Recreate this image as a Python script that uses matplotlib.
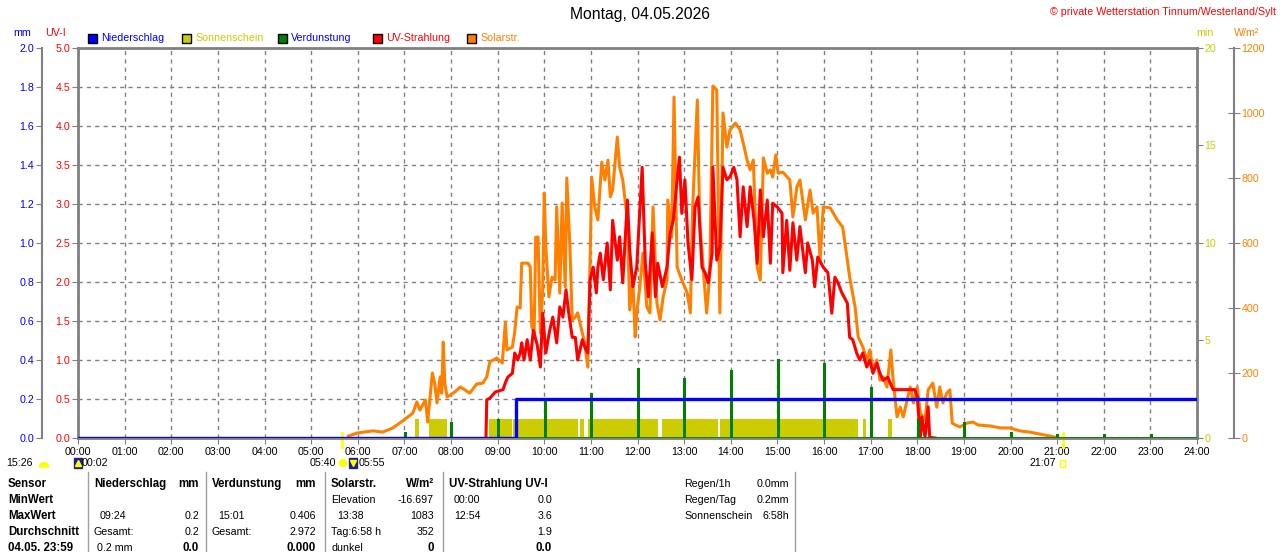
import matplotlib
matplotlib.use('Agg')
import matplotlib.pyplot as plt
from matplotlib.patches import Rectangle, Wedge, Circle
from matplotlib.lines import Line2D
from matplotlib.transforms import blended_transform_factory

plt.rcParams['font.family'] = ['Liberation Sans', 'DejaVu Sans']

# hour axis
hours = list(range(25))
hour_labels = ['%02d:00' % h for h in hours]

# Solarstrahlung W/m2
solar_times = ['05:48', '05:59', '06:07', '06:20', '06:32', '06:45', '06:54', '07:03', '07:11', '07:16',
               '07:20', '07:27', '07:30', '07:36', '07:39', '07:42', '07:46', '07:48', '07:50', '07:52',
               '07:55', '07:59', '08:05', '08:12', '08:18', '08:24', '08:33', '08:41', '08:46', '08:50',
               '08:59', '09:06', '09:10', '09:12', '09:19', '09:22', '09:25', '09:29', '09:31', '09:39',
               '09:42', '09:44', '09:47', '09:49', '09:52', '09:55', '09:58', '10:00', '10:02', '10:06',
               '10:10', '10:14', '10:16', '10:20', '10:23', '10:27', '10:29', '10:33', '10:36', '10:40',
               '10:43', '10:49', '10:52', '10:56', '10:59', '11:01', '11:05', '11:09', '11:14', '11:18',
               '11:22', '11:25', '11:28', '11:34', '11:37', '11:41', '11:47', '11:50', '11:54', '11:57',
               '11:59', '12:03', '12:07', '12:12', '12:16', '12:20', '12:25', '12:29', '12:33', '12:38',
               '12:39', '12:44', '12:47', '12:51', '12:57', '13:04', '13:08', '13:11', '13:17', '13:20',
               '13:24', '13:29', '13:33', '13:37', '13:42', '13:46', '13:50', '13:55', '13:59', '14:06',
               '14:12', '14:16', '14:21', '14:25', '14:29', '14:34', '14:38', '14:42', '14:47', '14:51',
               '14:54', '14:58', '15:01', '15:07', '15:16', '15:20', '15:25', '15:29', '15:36', '15:42',
               '15:46', '15:51', '15:55', '15:59', '16:08', '16:17', '16:24', '16:30', '16:33', '16:40',
               '16:44', '16:50', '16:55', '16:59', '17:03', '17:08', '17:12', '17:16', '17:21', '17:26',
               '17:29', '17:34', '17:38', '17:42', '17:47', '17:51', '17:55', '18:00', '18:04', '18:10',
               '18:14', '18:20', '18:25', '18:29', '18:33', '18:38', '18:42', '18:45', '18:49', '18:55',
               '19:04', '19:12', '19:18', '19:34', '19:47', '19:59', '20:12', '20:25', '20:38', '20:51',
               '21:01']
solar_wm2 = [6, 15, 18, 22, 18, 31, 46, 62, 77, 111,
             86, 117, 49, 200, 169, 108, 188, 138, 295, 169,
             126, 132, 142, 157, 148, 138, 166, 169, 188, 234,
             246, 231, 357, 271, 280, 326, 403, 400, 538, 538,
             526, 342, 323, 618, 618, 323, 455, 754, 588, 434,
             495, 486, 711, 446, 723, 465, 800, 588, 363, 372,
             385, 323, 292, 218, 548, 803, 711, 671, 849, 794,
             855, 742, 763, 926, 834, 794, 671, 394, 486, 311,
             385, 465, 569, 403, 385, 711, 415, 363, 434, 486,
             732, 618, 1049, 526, 486, 446, 385, 711, 1040, 671,
             538, 385, 508, 1083, 1071, 385, 1000, 895, 948, 969,
             948, 908, 855, 825, 855, 526, 486, 862, 815, 825,
             803, 871, 815, 818, 794, 680, 772, 794, 671, 763,
             692, 711, 548, 711, 708, 671, 649, 548, 495, 403,
             311, 280, 240, 271, 209, 240, 178, 188, 157, 271,
             178, 65, 95, 65, 117, 157, 108, 157, 77, 55,
             148, 169, 95, 157, 108, 138, 148, 46, 40, 34,
             46, 49, 40, 37, 31, 31, 22, 18, 12, 6,
             0]

# UV-Strahlung UV-I
uv_times = ['08:45', '08:46', '08:50', '08:57', '09:07', '09:10', '09:13', '09:19', '09:22', '09:26',
            '09:29', '09:31', '09:34', '09:38', '09:42', '09:46', '09:51', '09:55', '09:57', '09:58',
            '10:02', '10:07', '10:11', '10:16', '10:20', '10:24', '10:28', '10:31', '10:36', '10:40',
            '10:43', '10:49', '10:52', '10:56', '10:59', '11:03', '11:07', '11:09', '11:12', '11:16',
            '11:21', '11:25', '11:28', '11:34', '11:37', '11:41', '11:47', '11:50', '11:54', '11:59',
            '12:06', '12:10', '12:14', '12:19', '12:23', '12:26', '12:32', '12:38', '12:42', '12:46',
            '12:51', '12:54', '12:57', '13:01', '13:05', '13:10', '13:14', '13:18', '13:23', '13:27',
            '13:31', '13:36', '13:37', '13:42', '13:46', '13:50', '13:55', '13:59', '14:04', '14:08',
            '14:12', '14:16', '14:21', '14:25', '14:30', '14:34', '14:38', '14:42', '14:47', '14:51',
            '14:54', '15:00', '15:06', '15:07', '15:12', '15:16', '15:20', '15:25', '15:29', '15:36',
            '15:39', '15:45', '15:48', '15:52', '15:59', '16:05', '16:10', '16:14', '16:18', '16:23',
            '16:30', '16:33', '16:37', '16:42', '16:46', '16:50', '16:55', '16:59', '17:03', '17:08',
            '17:12', '17:16', '17:22', '17:29', '17:44', '17:57', '18:00', '18:04', '18:06', '18:10',
            '18:14', '18:16', '18:23']
uv_index = [0.0, 0.49, 0.51, 0.59, 0.62, 0.71, 0.78, 0.83, 1.09, 1.0,
            1.09, 1.22, 1.0, 1.26, 1.0, 1.38, 1.19, 0.91, 1.35, 1.6,
            1.09, 1.38, 1.55, 1.22, 1.68, 1.55, 1.9, 1.64, 1.29, 1.29,
            1.0, 1.26, 1.17, 1.09, 2.03, 2.19, 1.86, 2.19, 2.37, 2.03,
            2.5, 1.9, 2.79, 2.28, 2.58, 1.99, 3.05, 2.41, 1.94, 2.19,
            3.47, 2.24, 1.81, 2.63, 1.81, 2.24, 1.94, 2.19, 2.63, 2.79,
            3.31, 3.6, 2.88, 3.31, 2.5, 2.03, 2.96, 3.09, 2.19, 2.12,
            1.99, 2.37, 3.47, 2.28, 2.45, 3.47, 3.31, 3.35, 3.47, 3.31,
            2.58, 3.22, 2.71, 3.22, 2.79, 2.24, 3.18, 2.58, 3.05, 2.24,
            3.01, 2.96, 2.88, 2.12, 2.79, 2.15, 2.76, 2.28, 2.71, 2.12,
            2.5, 2.28, 1.94, 2.32, 2.19, 2.12, 1.6, 2.06, 1.99, 1.86,
            1.73, 1.29, 1.26, 1.09, 1.0, 1.09, 0.91, 1.0, 0.83, 0.96,
            0.83, 0.74, 0.78, 0.62, 0.62, 0.62, 0.53, 0.01, 0.27, 0.01,
            0.4, 0.01, 0.0]

# Niederschlag (cumulative mm)
rain_times = ['00:00', '09:24', '24:00']
rain_mm = [0.0, 0.2, 0.2]

# Verdunstung mm per hour
evap_times = ['07:01', '08:01', '09:01', '10:01', '11:01', '12:01', '13:01', '14:01', '15:01',
              '16:01', '17:01', '18:01', '19:01', '20:01', '21:01', '22:01', '23:01']
evap_mm = [0.03, 0.08, 0.10, 0.205, 0.23, 0.36, 0.31, 0.35, 0.406,
           0.385, 0.26, 0.10, 0.08, 0.03, 0.02, 0.02, 0.02]

# Sonnenschein periods (1 min per minute)
sun_start = ['07:14', '07:32', '08:49', '09:20', '10:46', '10:56', '12:32', '13:46', '16:50', '17:22']
sun_end = ['07:19', '07:55', '09:19', '10:43', '10:51', '12:26', '13:44', '16:44', '16:54', '17:27']

sun_events = ['05:40', '21:07']


def hh(s):
    h, m = s.split(':')
    return int(h) + int(m) / 60.0


W, H = 1280, 552
fig = plt.figure(figsize=(W / 100, H / 100), dpi=100)


def fx(x):
    return x / W


def fy(y):
    return 1 - y / H


grey = '#808080'
c_blue = '#0000ff'
c_yel = '#cccc00'
c_green = '#008000'
c_red = '#ff0000'
c_orange = '#ff8000'
fs = 7.7

# base axes: frame, grid, UV-I scale
ax = fig.add_axes([fx(78), fy(438), (1197 - 78) / W, 390 / H])
ax.set_xlim(0, 24)
ax.set_ylim(0, 5)
ax.set_xticks(hours)
ax.set_xticklabels(hour_labels, fontsize=fs)
ax.set_yticks([i * 0.5 for i in range(11)])
ax.set_yticklabels(['%.1f' % (i * 0.5) for i in range(11)], fontsize=fs)
ax.tick_params(axis='y', colors=grey, labelcolor=c_red, length=4, pad=1.5)
ax.tick_params(axis='x', colors=grey, labelcolor='black', length=4, pad=2.5)
ax.grid(True, color=grey, linestyle=(0, (3, 3)), linewidth=1)
for s in ax.spines.values():
    s.set_color(grey)
    s.set_linewidth(2)

# Sonnenschein (min)
ax_min = ax.twinx()
ax_min.set_ylim(0, 20)
ax_min.set_yticks([0, 5, 10, 15, 20])
ax_min.tick_params(axis='y', colors=grey, labelcolor=c_yel, labelsize=fs, length=4, pad=1.5)
for s in ax_min.spines.values():
    s.set_visible(False)
starts = [hh(s) for s in sun_start]
widths = [hh(e) - hh(s) for s, e in zip(sun_start, sun_end)]
ax_min.bar(starts, [1] * len(starts), width=widths, align='edge', color=c_yel, linewidth=0)

# Solarstrahlung (W/m2)
ax_sol = ax.twinx()
ax_sol.set_ylim(0, 1200)
ax_sol.set_yticks(range(0, 1201, 200))
ax_sol.tick_params(axis='y', colors=grey, labelcolor=c_orange, labelsize=fs,
                   direction='inout', length=9, pad=1)
for k, s in ax_sol.spines.items():
    s.set_visible(k == 'right')
ax_sol.spines['right'].set_position(('axes', (1234 - 78) / 1119))
ax_sol.spines['right'].set_color(grey)
ax_sol.spines['right'].set_linewidth(1.5)
ax_sol.plot([hh(t) for t in solar_times], solar_wm2, color=c_orange, lw=2.2)

# UV-Strahlung
ax_uv = ax.twinx()
ax_uv.set_ylim(0, 5)
ax_uv.axis('off')
ax_uv.plot([hh(t) for t in uv_times], uv_index, color=c_red, lw=2.2)

# Niederschlag + Verdunstung (mm)
ax_mm = ax.twinx()
ax_mm.set_ylim(0, 2.0)
ax_mm.yaxis.set_ticks_position('left')
ax_mm.yaxis.set_label_position('left')
ax_mm.set_yticks([i * 0.2 for i in range(11)])
ax_mm.set_yticklabels(['%.1f' % (i * 0.2) for i in range(11)])
ax_mm.tick_params(axis='y', colors=grey, labelcolor=c_blue, labelsize=fs, length=4, pad=1.5)
for k, s in ax_mm.spines.items():
    s.set_visible(k == 'left')
ax_mm.spines['left'].set_position(('axes', (42 - 78) / 1119))
ax_mm.spines['left'].set_color(grey)
ax_mm.spines['left'].set_linewidth(1.5)
ax_mm.axhline(0, color=c_green, lw=2)
ax_mm.bar([hh(t) for t in evap_times], evap_mm, width=0.065, color=c_green, linewidth=0)
ax_mm.step([hh(t) for t in rain_times], rain_mm, where='post', color=c_blue, lw=2.4)

# sunrise / sunset marks under the axis
trans = blended_transform_factory(ax.transData, ax.transAxes)
for t in sun_events:
    ax.plot([hh(t), hh(t)], [0.012, -0.024], color='#ffff00', lw=2, transform=trans, clip_on=False)

# title and axis captions
fig.text(0.5, fy(15), 'Montag, 04.05.2026', ha='center', va='center', fontsize=11.3)
fig.text(fx(1276), fy(12), '\u00a9 private Wetterstation Tinnum/Westerland/Sylt', ha='right',
         va='center', fontsize=fs, color=c_red)
fig.text(fx(22), fy(33), 'mm', ha='center', va='center', fontsize=fs, color=c_blue)
fig.text(fx(56), fy(33), 'UV-I', ha='center', va='center', fontsize=fs, color=c_red)
fig.text(fx(1205), fy(33), 'min', ha='center', va='center', fontsize=fs, color=c_yel)
fig.text(fx(1247), fy(33), 'W/m\u00b2', ha='center', va='center', fontsize=fs, color=c_orange)

# legend
legend_items = [('Niederschlag', c_blue, c_blue, 88), ('Sonnenschein', c_yel, c_yel, 182),
                ('Verdunstung', c_green, c_blue, 278), ('UV-Strahlung', c_red, c_red, 373),
                ('Solarstr.', c_orange, c_orange, 467)]
for name, fc, tc, x0 in legend_items:
    fig.add_artist(Rectangle((fx(x0), fy(43)), 9 / W, 9 / H, transform=fig.transFigure,
                             facecolor=fc, edgecolor='black', lw=1))
    fig.text(fx(x0 + 13), fy(38), name, ha='left', va='center', fontsize=fs, color=tc)

# sun / moon line below the axis
ix = fig.dpi_scale_trans
fig.text(fx(6), fy(463), '15:26', ha='left', va='center', fontsize=fs)
fig.add_artist(Wedge((44 / 100, (H - 467) / 100), 0.045, 0, 180, transform=ix, color='#ffff00'))
fig.add_artist(Rectangle((74 / 100, (H - 468) / 100), 0.08, 0.1, transform=ix, color='#202080'))
fig.add_artist(Line2D([78 / 100], [(H - 463) / 100], marker='^', ms=4, color='#ffff00', transform=ix))
fig.text(fx(82), fy(463), '00:02', ha='left', va='center', fontsize=fs)
fig.text(fx(336), fy(463), '05:40', ha='right', va='center', fontsize=fs)
fig.add_artist(Circle((343 / 100, (H - 463) / 100), 0.035, transform=ix, color='#ffff00'))
fig.add_artist(Rectangle((349 / 100, (H - 468) / 100), 0.08, 0.1, transform=ix, color='#202080'))
fig.add_artist(Line2D([353 / 100], [(H - 463) / 100], marker='v', ms=4, color='#ffff00', transform=ix))
fig.text(fx(359), fy(463), '05:55', ha='left', va='center', fontsize=fs)
fig.text(fx(1056), fy(463), '21:07', ha='right', va='center', fontsize=fs)
fig.add_artist(Rectangle((1060 / 100, (H - 467) / 100), 0.05, 0.07, transform=ix,
                         facecolor='none', edgecolor='#ffff00', lw=1))

# statistics table
rows_y = [484, 500, 516, 532, 548]
table = [
    ('Sensor', 8, 0, 'left', True), ('MinWert', 8, 1, 'left', True), ('MaxWert', 8, 2, 'left', True),
    ('Durchschnitt', 8, 3, 'left', True), ('04.05. 23:59', 8, 4, 'left', True),
    ('Niederschlag', 94, 0, 'left', True), ('mm', 199, 0, 'right', True),
    ('09:24', 100, 2, 'left', False), ('0.2', 199, 2, 'right', False),
    ('Gesamt:', 94, 3, 'left', False), ('0.2', 199, 3, 'right', False),
    ('0.2 mm', 97, 4, 'left', False), ('0.0', 199, 4, 'right', True),
    ('Verdunstung', 212, 0, 'left', True), ('mm', 316, 0, 'right', True),
    ('15:01', 218, 2, 'left', False), ('0.406', 316, 2, 'right', False),
    ('Gesamt:', 212, 3, 'left', False), ('2.972', 316, 3, 'right', False),
    ('0.000', 316, 4, 'right', True),
    ('Solarstr.', 331, 0, 'left', True), ('W/m\u00b2', 434, 0, 'right', True),
    ('Elevation', 331, 1, 'left', False), ('-16.697', 434, 1, 'right', False),
    ('13:38', 337, 2, 'left', False), ('1083', 434, 2, 'right', False),
    ('Tag:6:58 h', 331, 3, 'left', False), ('352', 434, 3, 'right', False),
    ('dunkel', 331, 4, 'left', False), ('0', 434, 4, 'right', True),
    ('UV-Strahlung UV-I', 449, 0, 'left', True),
    ('00:00', 454, 1, 'left', False), ('0.0', 552, 1, 'right', False),
    ('12:54', 454, 2, 'left', False), ('3.6', 552, 2, 'right', False),
    ('1.9', 552, 3, 'right', False), ('0.0', 552, 4, 'right', True),
    ('Regen/1h', 684, 0, 'left', False), ('0.0mm', 789, 0, 'right', False),
    ('Regen/Tag', 684, 1, 'left', False), ('0.2mm', 789, 1, 'right', False),
    ('Sonnenschein', 684, 2, 'left', False), ('6:58h', 789, 2, 'right', False),
]
for txt, x, r, ha, bold in table:
    fig.text(fx(x), fy(rows_y[r]), txt, ha=ha, va='center',
             fontsize=8.3 if bold else fs, fontweight='bold' if bold else 'normal')
for xs in [88, 206, 325, 443, 795]:
    fig.add_artist(Line2D([fx(xs), fx(xs)], [fy(472), fy(552)], color='#a0a0a0', lw=1,
                          transform=fig.transFigure))

fig.savefig('out.png', dpi=100)
